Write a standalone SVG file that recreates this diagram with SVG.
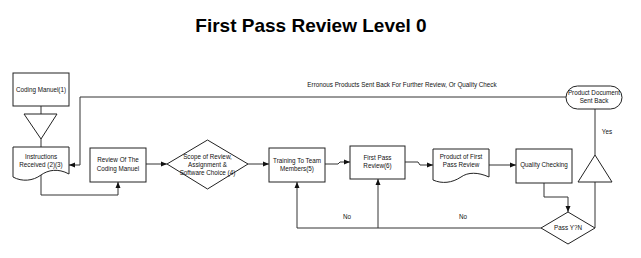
<svg xmlns="http://www.w3.org/2000/svg" width="641" height="258" viewBox="0 0 641 258">
<style>
.shape{fill:#fff;stroke:#222;stroke-width:1}
.conn{fill:none;stroke:#333;stroke-width:1}
.t{font-family:"Liberation Sans",Arial,sans-serif;font-size:6.3px;fill:#111;text-anchor:middle}
.title{font-family:"Liberation Sans",Arial,sans-serif;font-size:19px;font-weight:bold;fill:#000;text-anchor:middle}
</style>
<defs>
<marker id="arr" markerUnits="userSpaceOnUse" markerWidth="6" markerHeight="6" refX="6" refY="3" orient="auto">
<path d="M0,0.5 L6,3 L0,5.5 z" fill="#111"/>
</marker>
</defs>
<rect width="641" height="258" fill="#fff"/>
<text class="title" x="311" y="32">First Pass Review Level 0</text>

<g id="connectors">
<path class="conn" d="M41,106 V114"/>
<path class="conn" d="M41,139 V147"/>
<path class="conn" d="M41,175 V195 H118 V182" marker-end="url(#arr)"/>
<path class="conn" d="M146,164 H167" marker-end="url(#arr)"/>
<path class="conn" d="M248,164 H269" marker-end="url(#arr)"/>
<path class="conn" d="M325,164 H338 L340,162 H350" marker-end="url(#arr)"/>
<path class="conn" d="M405,162 H418 L420,165 H433" marker-end="url(#arr)"/>
<path class="conn" d="M489,165 H516" marker-end="url(#arr)"/>
<path class="conn" d="M544,183 V197 H568 V212" marker-end="url(#arr)"/>
<path class="conn" d="M541,228 H297 V182" marker-end="url(#arr)"/>
<path class="conn" d="M378,228 V179" marker-end="url(#arr)"/>
<path class="conn" d="M595,228 V182"/>
<path class="conn" d="M595,155 V109"/>
<path class="conn" d="M566,97 H80 V165 H69" marker-end="url(#arr)"/>
<text class="t" x="402" y="87">Erronous Products Sent Back For Further Review, Or Quality Check</text>
<text class="t" x="347" y="219">No</text>
<text class="t" x="463" y="219">No</text>
<text class="t" x="607" y="134">Yes</text>
</g>

<g id="coding-manuel">
<rect class="shape" x="13" y="73" width="56" height="33"/>
<text class="t" x="41" y="92">Coding Manuel(1)</text>
</g>
<g id="merge-1">
<polygon class="shape" points="24,114 57,114 41,139"/>
</g>
<g id="instructions-received">
<path class="shape" d="M13,147 H69 V174 C58,168 48,170 41,175 C33,181 22,182 13,177 Z"/>
<text class="t" x="41" y="159">Instructions</text>
<text class="t" x="41" y="167">Received (2)(3)</text>
</g>
<g id="review-coding-manuel">
<rect class="shape" x="90" y="148" width="56" height="34"/>
<text class="t" x="118" y="161.5">Review Of The</text>
<text class="t" x="118" y="170.5">Coding Manuel</text>
</g>
<g id="scope-of-review">
<polygon class="shape" points="167,164 207.5,140 248,164 207.5,189"/>
<text class="t" x="207.5" y="158.5">Scope of Review,</text>
<text class="t" x="207.5" y="166.5">Assignment &amp;</text>
<text class="t" x="207.5" y="174.5">Software Choice (4)</text>
</g>
<g id="training">
<rect class="shape" x="269" y="148" width="56" height="34"/>
<text class="t" x="297" y="163.3">Training To Team</text>
<text class="t" x="297" y="170.8">Members(5)</text>
</g>
<g id="first-pass-review">
<rect class="shape" x="350" y="146" width="55" height="33"/>
<text class="t" x="377.5" y="160.3">First Pass</text>
<text class="t" x="377.5" y="168.3">Review(6)</text>
</g>
<g id="product-first-pass">
<path class="shape" d="M433,149 H489 V177 C478,172 468,172 461,177 C452,183 442,184 433,180 Z"/>
<text class="t" x="461" y="159.3">Product of First</text>
<text class="t" x="461" y="166.5">Pass Review</text>
</g>
<g id="quality-checking">
<rect class="shape" x="516" y="149" width="56" height="34"/>
<text class="t" x="544" y="167.3">Quality Checking</text>
</g>
<g id="pass-yn">
<polygon class="shape" points="541,228 568,212 595,228 568,244"/>
<text class="t" x="568" y="230.3">Pass Y?N</text>
</g>
<g id="merge-2">
<polygon class="shape" points="578,182 612,182 595,155"/>
</g>
<g id="product-document-sent-back">
<rect class="shape" x="566" y="86" width="56" height="23" rx="11.5" ry="11.5"/>
<text class="t" x="594" y="95.3">Product Document</text>
<text class="t" x="594" y="103.3">Sent Back</text>
</g>
</svg>
